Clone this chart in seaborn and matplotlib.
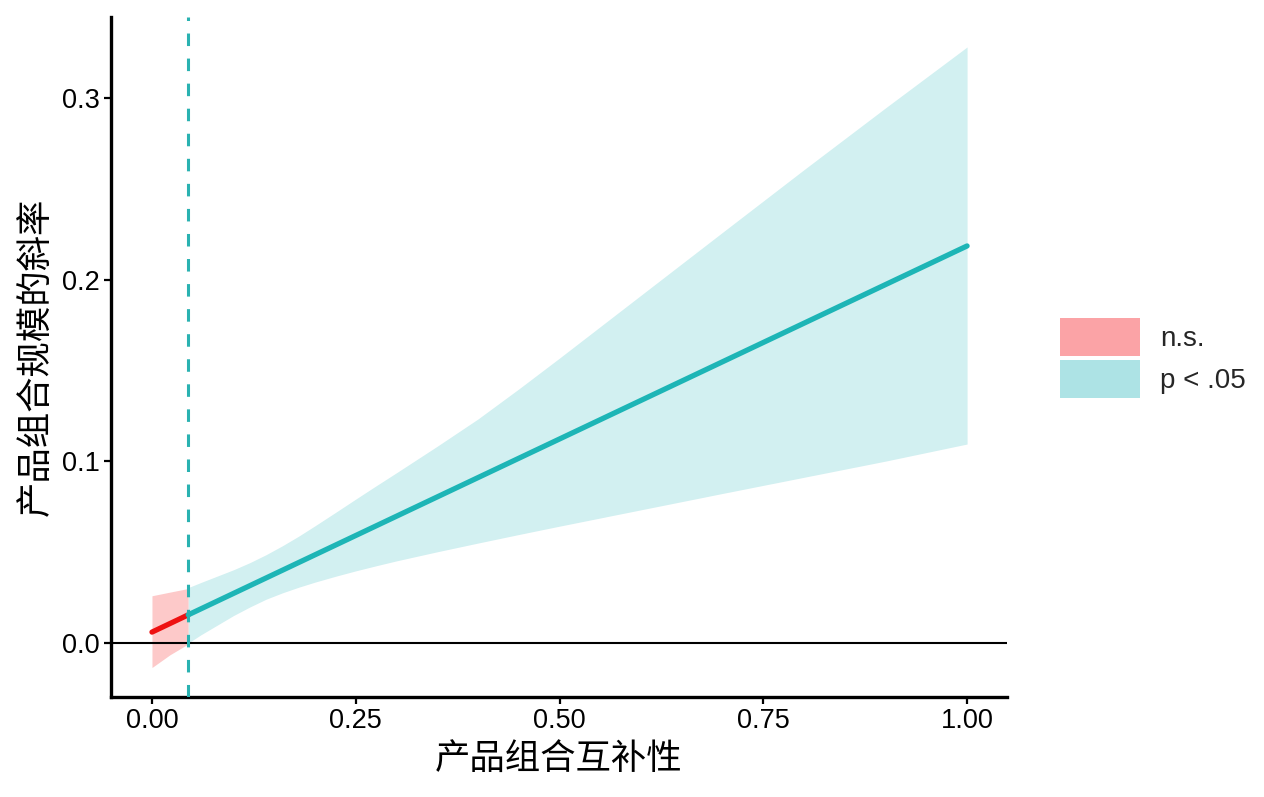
import numpy as np
import pandas as pd
import matplotlib
matplotlib.use("Agg")
import matplotlib.pyplot as plt
from matplotlib.patches import Patch
import seaborn as sns


# Johnson-Neyman plot: slope of 产品组合规模 across 产品组合互补性
JN_POINT = 0.0445

# non-significant region (x < JN point)
NS_X = [0.0, 0.022, 0.0445]
NS_UPPER = [0.026, 0.028, 0.030]
NS_LOWER = [-0.0135, -0.0065, -0.0005]

# significant region (x >= JN point)
SIG_X = [0.0445, 0.06, 0.08, 0.10, 0.12, 0.14, 0.16, 0.18, 0.20, 0.225, 0.25, 0.275, 0.30,
         0.35, 0.40, 0.45, 0.50, 0.60, 0.70, 0.80, 0.90, 1.00]
SIG_UPPER = [0.0305, 0.0333, 0.0368, 0.0403, 0.0442, 0.0486, 0.0535, 0.0588, 0.0645, 0.0718,
             0.0792, 0.0865, 0.0937, 0.1083, 0.1233, 0.1398, 0.1568, 0.1914, 0.2260, 0.2605,
             0.2945, 0.3280]
SIG_LOWER = [0.0000, 0.0045, 0.0098, 0.0151, 0.0198, 0.0241, 0.0276, 0.0307, 0.0335, 0.0367,
             0.0397, 0.0425, 0.0452, 0.0502, 0.0550, 0.0597, 0.0643, 0.0733, 0.0823, 0.0912,
             0.1001, 0.1095]

# simple slope line
LINE_X = [0.0, 0.0445, 1.0]
LINE_Y = [0.006, 0.0155, 0.2185]
LINE_GROUP = ["n.s.", "p < .05", "p < .05"]

X_TICKS = [0.00, 0.25, 0.50, 0.75, 1.00]
Y_TICKS = [0.0, 0.1, 0.2, 0.3]

X_LABEL = "产品组合互补性"
Y_LABEL = "产品组合规模的斜率"

RED = "#EE1111"
TEAL = "#1DB5B6"
PINK_BAND = "#FDC9C9"
TEAL_BAND = "#D2F0F1"
PINK_KEY = "#FBA3A6"
TEAL_KEY = "#ADE3E5"


def main():
    sns.set_theme(style="white")
    plt.rcParams["font.family"] = ["Liberation Sans", "Noto Sans CJK SC", "DejaVu Sans"]

    line_df = pd.DataFrame({"x": LINE_X, "y": LINE_Y, "group": LINE_GROUP})
    red_df = line_df.iloc[:2]
    teal_df = line_df.iloc[1:]

    fig = plt.figure(figsize=(12.64, 7.97), dpi=100)
    ax = fig.add_axes([0.0878, 0.1255, 0.7089, 0.8532])

    ax.fill_between(NS_X, NS_LOWER, NS_UPPER, color=PINK_BAND, linewidth=0)
    ax.fill_between(SIG_X, SIG_LOWER, SIG_UPPER, color=TEAL_BAND, linewidth=0)

    ax.axhline(0, color="black", lw=1.5, zorder=2)

    sns.lineplot(data=red_df, x="x", y="y", color=RED, lw=3.8, ax=ax, zorder=3)
    sns.lineplot(data=teal_df, x="x", y="y", color=TEAL, lw=3.8, ax=ax, zorder=3)

    ax.axvline(JN_POINT, color="#2AB2B1", lw=2.2, linestyle=(0, (4.1, 4.1)), zorder=4)

    ax.set_xlim(-0.0503, 1.049)
    ax.set_ylim(-0.0297, 0.3445)
    ax.set_xticks(X_TICKS)
    ax.set_xticklabels([f"{v:.2f}" for v in X_TICKS])
    ax.set_yticks(Y_TICKS)
    ax.set_yticklabels([f"{v:.1f}" for v in Y_TICKS])

    for side in ["top", "right"]:
        ax.spines[side].set_visible(False)
    for side in ["left", "bottom"]:
        ax.spines[side].set_linewidth(2.4)
        ax.spines[side].set_color("black")

    ax.tick_params(axis="both", which="major", direction="out", length=5, width=1.6,
                   color="black", labelsize=19.5, labelcolor="black", pad=3,
                   bottom=True, left=True)

    ax.set_xlabel(X_LABEL, fontsize=25.5, labelpad=6, color="black")
    ax.set_ylabel(Y_LABEL, fontsize=25.5, labelpad=6, color="black")

    handles = [Patch(facecolor=PINK_KEY, edgecolor="none", label="n.s."),
               Patch(facecolor=TEAL_KEY, edgecolor="none", label="p < .05")]
    fig.legend(handles=handles, loc="center left", bbox_to_anchor=(0.8386, 0.551),
               frameon=False, fontsize=20, handlelength=2.88, handleheight=1.72,
               labelspacing=0.15, handletextpad=0.72, borderaxespad=0, borderpad=0)

    fig.savefig("out.png", dpi=100)


if __name__ == "__main__":
    main()
